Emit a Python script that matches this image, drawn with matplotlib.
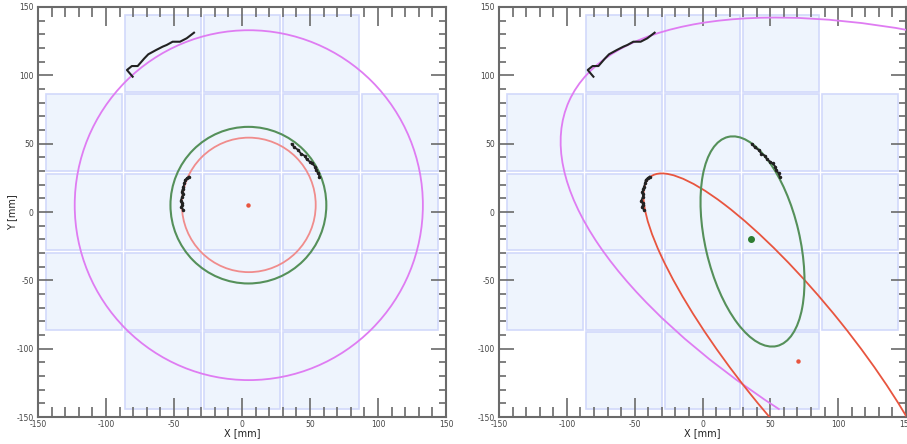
import matplotlib
matplotlib.use("Agg")
import matplotlib.pyplot as plt
from matplotlib.patches import Rectangle, Circle, Ellipse, Arc
from matplotlib.ticker import MultipleLocator

plt.rcParams['axes.unicode_minus'] = False
plt.rcParams['font.family'] = ['DejaVu Sans']

# ---- data (mm) ----
tile_cols = [-144, -86, -28, 30, 88]
tile_rows = [88, 30, -28, -86, -144]
tile_size = 56
row_cols = {88: [-86, -28, 30], 30: tile_cols, -28: tile_cols, -86: tile_cols, -144: [-86, -28, 30]}

trace_a_x = [-80.4, -84.6, -81.0, -76.7, -72.0, -68.9, -63.2, -58.3, -55.4, -51.0, -45.6, -40.7, -35.3]
trace_a_y = [99.0, 103.9, 106.8, 106.8, 112.2, 115.4, 118.5, 121.0, 122.2, 124.6, 124.6, 127.1, 131.2]
trace_b_x = [-39.0, -40.5, -41.9, -42.3, -43.1, -43.6, -44.3, -43.5, -43.9, -45.1, -44.2, -43.9, -44.5, -43.1]
trace_b_y = [25.9, 24.8, 23.4, 21.0, 18.5, 16.6, 14.9, 13.0, 11.2, 8.3, 6.8, 5.2, 3.5, 1.5]
trace_c_x = [36.5, 38.6, 41.4, 43.2, 46.3, 47.5, 50.0, 51.6, 53.7, 54.4, 56.1, 56.9]
trace_c_y = [49.8, 47.2, 45.4, 42.8, 41.0, 38.5, 36.8, 35.6, 33.2, 30.6, 28.3, 25.9]

# left panel circles: (cx, cy, r)
left_magenta = (5.0, 5.0, 128.0)
left_green = (4.7, 5.0, 57.3)
left_red = (5.0, 5.2, 49.2)
left_red_dot = (4.5, 5.2)

# right panel ellipses: (cx, cy, semi-major, semi-minor, angle)
right_magenta = (263.81, -68.57, 391.94, 162.93, 157.95)
right_magenta_span = (-45.0, 42.2)
right_red = (68.57, -106.98, 170.47, 42.34, -51.05)
right_green = (36.86, -21.56, 78.58, 34.76, -76.77)
right_green_dot = (35.8, -19.9)
right_red_dot = (70.1, -109.0)

MAG = '#df7cf2'
GREEN = '#55905a'
RED_L = '#f08c8c'
RED_R = '#e8553f'
TRACE = '#222222'
TILE_FC = '#eef4fd'
TILE_EC = '#d2d9fb'
AX_C = '#6a6a6a'

fig = plt.figure(figsize=(9.07, 4.44), dpi=100)
ax1 = fig.add_axes([38/907, 27/444, 408/907, 410/444])
ax2 = fig.add_axes([499/907, 27/444, 407/907, 410/444])

def style(ax, ylabel):
    ax.set_xlim(-150, 150)
    ax.set_ylim(-150, 150)
    for r in tile_rows:
        for c in row_cols[r]:
            ax.add_patch(Rectangle((c, r), tile_size, tile_size, fc=TILE_FC, ec=TILE_EC, lw=1.2, zorder=1))
    ax.xaxis.set_major_locator(MultipleLocator(50))
    ax.xaxis.set_minor_locator(MultipleLocator(10))
    ax.yaxis.set_major_locator(MultipleLocator(50))
    ax.yaxis.set_minor_locator(MultipleLocator(10))
    ax.tick_params(axis='both', which='both', direction='in', top=True, right=True,
                   color=AX_C, width=1.2, labelsize=5.5, labelcolor='#444444')
    ax.tick_params(axis='x', which='major', length=13.5, pad=2)
    ax.tick_params(axis='x', which='minor', length=7)
    ax.tick_params(axis='y', which='major', length=10.5, pad=3)
    ax.tick_params(axis='y', which='minor', length=5)
    for s in ax.spines.values():
        s.set_color(AX_C)
        s.set_linewidth(1.5)
    ax.set_xlabel('X [mm]', fontsize=7, color='#222222')
    ax.xaxis.set_label_coords(0.5, -0.027)
    if ylabel:
        ax.set_ylabel('Y [mm]', fontsize=7, color='#222222')
        ax.yaxis.set_label_coords(-0.051, 0.5)
    ax.plot(trace_a_x, trace_a_y, color=TRACE, lw=1.5, zorder=5)
    ax.plot(trace_b_x, trace_b_y, color=TRACE, lw=1.3, marker='.', ms=3, zorder=5)
    ax.plot(trace_c_x, trace_c_y, color=TRACE, lw=1.3, marker='.', ms=3, zorder=5)

style(ax1, True)
style(ax2, False)

cx, cy, r = left_magenta
ax1.add_patch(Circle((cx, cy), r, fill=False, ec=MAG, lw=1.3, zorder=3))
cx, cy, r = left_green
ax1.add_patch(Circle((cx, cy), r, fill=False, ec=GREEN, lw=1.5, zorder=3))
cx, cy, r = left_red
ax1.add_patch(Circle((cx, cy), r, fill=False, ec=RED_L, lw=1.3, zorder=3))
ax1.plot([left_red_dot[0]], [left_red_dot[1]], 'o', color=RED_R, ms=2.2, zorder=4)

cx, cy, a, b, ang = right_magenta
ax2.add_patch(Arc((cx, cy), 2*a, 2*b, angle=ang, theta1=right_magenta_span[0],
                  theta2=right_magenta_span[1], ec=MAG, lw=1.3, zorder=3))
cx, cy, a, b, ang = right_red
ax2.add_patch(Ellipse((cx, cy), 2*a, 2*b, angle=ang, fill=False, ec=RED_R, lw=1.3, zorder=3))
cx, cy, a, b, ang = right_green
ax2.add_patch(Ellipse((cx, cy), 2*a, 2*b, angle=ang, fill=False, ec=GREEN, lw=1.5, zorder=3))
ax2.plot([right_green_dot[0]], [right_green_dot[1]], 'o', color='#2e7d32', ms=4, zorder=4)
ax2.plot([right_red_dot[0]], [right_red_dot[1]], 'o', color=RED_R, ms=2.2, zorder=4)

fig.savefig("out.png", dpi=100)
